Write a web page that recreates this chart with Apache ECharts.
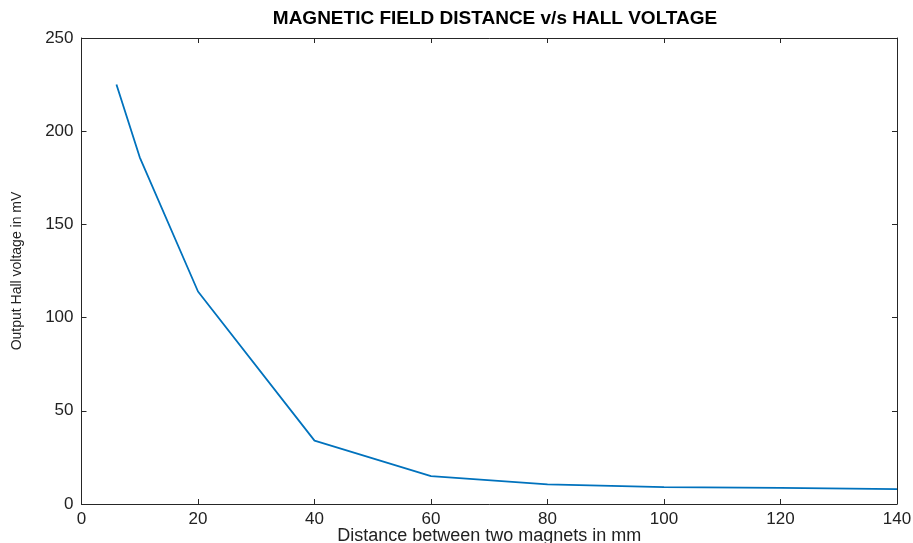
<!DOCTYPE html>
<html><head><meta charset="utf-8">
<script src="https://cdn.jsdelivr.net/npm/echarts@6/dist/echarts.min.js"></script>
<style>html,body{margin:0;padding:0;background:#fff}#c{width:913px;height:543px}</style>
</head><body><div id="c"></div>
<script>
var distances = [6, 10, 20, 40, 60, 80, 100, 120, 140];
var voltages = [225, 186, 114, 34, 15, 10.5, 9, 8.7, 8];
var xTicks = [0, 20, 40, 60, 80, 100, 120, 140];
var yTicks = [0, 50, 100, 150, 200, 250];

var chart = echarts.init(document.getElementById('c'));
var axisColor = '#262626';
var font = 'Liberation Sans, Arial, sans-serif';
function ax(pos, show, extra) {
  var o = {
    type: 'value', position: pos,
    splitLine: {show: false},
    axisLine: {show: true, onZero: false, lineStyle: {color: axisColor, width: 1}},
    axisTick: {show: true, inside: true, length: 5, lineStyle: {color: axisColor}},
    axisLabel: {show: show, color: '#222', fontSize: 17, fontFamily: font}
  };
  return Object.assign(o, extra);
}
chart.setOption({
  animation: false,
  title: {text: 'MAGNETIC FIELD DISTANCE v/s HALL VOLTAGE', left: 490, top: 4, textAlign: 'center',
    textStyle: {fontSize: 19, fontWeight: 'bold', color: '#000', fontFamily: font}},
  grid: {left: 81.5, right: 16, top: 38, bottom: 39, containLabel: false, outerBoundsMode: 'none'},
  xAxis: [
    ax('bottom', true, {min: xTicks[0], max: xTicks[xTicks.length-1], interval: 20,
      name: 'Distance between two magnets in mm', nameLocation: 'middle', nameGap: 23,
      nameMoveOverlap: false,
      nameTextStyle: {fontSize: 18, color: '#222', fontFamily: font},
      axisLabel: {show: true, color: '#222', fontSize: 17, fontFamily: font, margin: 7}}),
    ax('top', false, {min: 0, max: 140, interval: 20})
  ],
  yAxis: [
    ax('left', true, {min: yTicks[0], max: yTicks[yTicks.length-1], interval: 50,
      name: 'Output Hall voltage in mV', nameLocation: 'middle', nameGap: 57,
      nameMoveOverlap: false,
      nameTextStyle: {fontSize: 14, color: '#222', fontFamily: font},
      axisLabel: {show: true, color: '#222', fontSize: 17, fontFamily: font, margin: 8}}),
    ax('right', false, {min: 0, max: 250, interval: 50})
  ],
  series: [{
    type: 'line', xAxisIndex: 0, yAxisIndex: 0, symbol: 'none',
    lineStyle: {color: '#0072BD', width: 1.8},
    data: distances.map(function(d, i){ return [d, voltages[i]]; })
  }]
});
</script></body></html>
